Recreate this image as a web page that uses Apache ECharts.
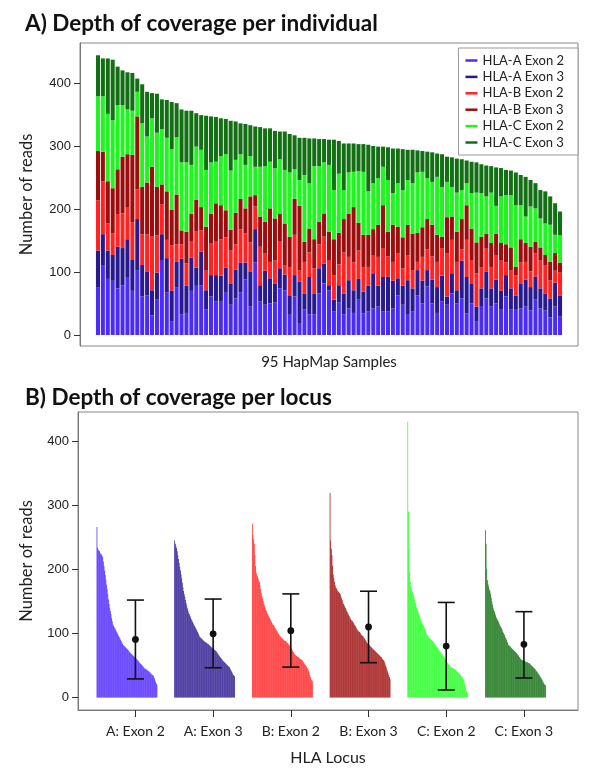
<!DOCTYPE html>
<html>
<head>
<meta charset="utf-8">
<script src="https://cdn.jsdelivr.net/npm/echarts@6/dist/echarts.min.js"></script>
<style>
html,body{margin:0;padding:0;background:#fff;}
#chart{width:600px;height:772px;}
</style>
</head>
<body>
<div id="chart"></div>
<script>
// ---------- Panel A: reads per sample, per exon (95 HapMap samples) ----------
const seriesNames = ['HLA-A Exon 2','HLA-A Exon 3','HLA-B Exon 2','HLA-B Exon 3','HLA-C Exon 2','HLA-C Exon 3'];
const hlaA2 = [75,111,89,86,74,79,92,70,103,61, 63,31,56,119,68,21,75,33,35,70, 78,79,41,61,53,54,67,48,58,68, 88,45,115,53,48,50,52,74,71,32, 61,19,41,33,33,66,82,71,37,52, 33,42,35,56,34,37,42,45,37,37, 42,63,48,32,37,63,50,77,50,35, 53,48,66,50,58,34,50,21,46,58, 45,50,40,61,41,40,42,45,39,56, 42,39,28,45,29];
const hlaA3 = [59,49,45,41,66,59,60,49,81,50, 38,40,43,41,54,49,41,88,43,53, 29,53,30,34,42,40,40,34,46,47, 27,56,53,26,54,40,30,32,25,31, 34,66,25,59,32,40,31,8,19,27, 33,45,36,33,35,41,56,33,55,56, 44,27,30,55,37,40,36,26,38,41, 41,13,32,21,60,58,32,24,28,43, 29,38,30,34,33,22,39,43,37,37, 32,27,30,38,33];
const hlaB2 = [80,84,43,34,52,55,50,60,47,49, 59,85,59,47,29,72,28,23,36,25, 57,34,31,51,53,58,48,52,40,53, 46,46,36,61,28,26,36,42,14,45, 64,18,50,39,41,38,43,40,39,33, 65,37,44,45,38,30,29,46,46,32, 30,40,28,40,29,13,38,33,37,40, 44,69,53,45,18,59,37,53,33,36, 34,39,49,20,29,33,34,28,25,37, 44,45,29,19,37];
const hlaB3 = [78,47,67,72,71,90,85,107,116,75, 82,111,77,32,77,57,79,22,50,44, 51,37,70,46,61,54,43,33,50,48, 40,73,18,48,50,85,67,44,67,48, 57,102,32,38,46,36,37,45,57,50, 53,68,88,44,52,51,41,51,68,39, 59,42,49,48,58,46,47,48,50,43, 18,57,37,48,48,55,50,49,49,24, 38,34,27,29,36,13,37,30,39,18, 21,16,29,28,16];
const hlaC2 = [87,88,107,108,102,82,71,70,39,101, 73,77,86,88,85,96,91,108,110,78, 84,91,90,82,66,78,89,94,84,71, 69,64,45,79,88,74,80,87,85,102, 47,41,106,72,116,88,81,106,78,94, 46,66,56,82,100,69,73,74,61,82, 50,69,75,71,80,96,88,65,68,92, 79,56,47,62,46,35,56,79,69,59, 80,44,74,78,83,98,54,42,64,53, 46,50,59,29,43];
const hlaC3 = [65,60,88,96,61,55,59,60,21,62, 71,40,62,47,60,75,54,84,82,86, 53,55,86,73,71,60,56,79,61,49, 65,49,64,63,60,53,59,44,61,61, 54,67,59,71,44,43,37,40,80,52, 74,46,45,43,44,74,59,50,32,52, 71,55,65,48,53,35,33,42,47,37, 52,40,47,54,49,36,50,48,46,49, 42,61,45,40,39,52,48,63,42,40, 45,51,45,50,38];
const sampleIds = hlaA2.map((_, i) => 'S' + (i + 1));

// ---------- Panel B: reads per locus, sorted (descending) ----------
const locusLabels = ['A: Exon 2','A: Exon 3','B: Exon 2','B: Exon 3','C: Exon 2','C: Exon 3'];
const sortedA2 = [266, 234,231,229,228,226,224,223,221,219, 212,205,198,191,184, 176,169,161,153, 146,140,135,130, 124,119,114, 112,110,108,106,104,102,100,98, 96,94,92,90,88,86,84,82, 81,80,79,78,77,76,75,74,72,71, 70,69,68,67,66,65,64,63,62,61,60, 59,58,57,55,54,53,52,51,50,49,47, 46,45,45,44,43,42,42,41,40, 39,38,37,36,35,34,33, 30,27,24,22,20];
const sortedA3 = [245, 240,236,233,228, 222,216,210,204, 198,192,186,179,172, 166,161,157,152, 147,143,139,135, 132,130,127,125,122,120,118,116,114, 112,110,108,106,104,102,100,98,95, 94,93,92,91,90,89,88,87,86,86,85,84,84,83,82, 81,80,79,78,77,77,76,75,74,73,72,71, 69,68,66,65,63,62,61,60,58, 57,56,55,54,53,52,51,50,49,48,47, 45,43,41,39,37,35,34,33];
const sortedB2 = [271, 253,247,240, 222,205,195, 192,189,186,183,180, 175,169,163,158,155, 150,146,143,140, 137,135,132,130,128,126,124, 122,120,118,116,114,113,111,110,108, 106,105,103,101,99,98,96,95, 94,93,92,91,90,89,88,88,87,86,85,84, 83,81,80,78,76,75,73,71,70,68, 67,66,65,64,63,63,62,61,60,60,59, 58,57,55,54,52,51,49,48,46,45, 42,39,35,32,29,27,26];
const sortedB3 = [319, 245,232,222, 205,192,186,180, 175,172,170,168,166, 165,164,163,161, 158,155,152,149,146,144,142,140,138,135, 133,131,129,127,125,123,121,120,119,118, 116,114,112,111,109,107,105,104,103, 102,101,100,98,97,96,95,93,92,90,89,87,85, 84,83,82,81,80,79,78,77,76,75,74,73,72,71,70,69, 68,67,66,65,64,63,62,60,59,58,56, 53,50,47,44,41,38,35,32,29];
const sortedC2 = [430, 290,232,195,180,172, 168,165,163,160, 156,152,148,144,140, 137,134,131,128,125,122,119, 117,115,113,111,109,106,104,101,98, 97,95,94,93,92,91,90,89,88,87,85, 84,83,81,80,78,77,76,74,72,71,69, 68,67,65,64,63,61,60,58,56, 55,53,52,51,50,48,47, 47,46,46,45,44,44,43,42, 41,40,39,38,37,36,35,33,32,30,29, 26,22,18,14,10,8,6];
const sortedC3 = [261, 240,200,183, 177,173,169,166,162, 156,150,145,140, 137,134,131,128,125,123,121,119, 117,114,112,110,108,106,103,101, 99,97,94,92,90,87,85,82, 81,80,79,78,77,76,75,74,73,72,71, 70,69,67,66,65,63,62,60, 59,59,58,58,57,57,56,56,55,55,55,54,54, 53,52,51,50,49,48,47,46,45,44,42, 41,40,38,37,35,34,32,31, 29,27,25,23,21,20,19];
// mean and mean±sd error bars
const errMean = [90.5, 99.3, 104.2, 110, 80.3, 83];
const errLow  = [29, 46.4, 47.4, 54.3, 11.8, 30.4];
const errHigh = [152, 153.6, 161.6, 165.8, 148.3, 133.9];

// ---------- styling ----------
const colorsA = ['#4b2cf6','#27198e','#ff2323','#9c0d0d','#22f322','#136f13'];
const colorsB = ['#5a36ff','#3c2b98','#ff3535','#a62121','#33ff33','#237a23'];
const FONT = 'Lato';
const NUMFONT = 'Liberation Sans';

const chart = echarts.init(document.getElementById('chart'), null, {renderer: 'canvas'});

const panelAValues = [hlaA2, hlaA3, hlaB2, hlaB3, hlaC2, hlaC3];
const panelBValues = [sortedA2, sortedA3, sortedB2, sortedB3, sortedC2, sortedC3];

const series = [];
panelAValues.forEach((arr, k) => {
  series.push({
    name: seriesNames[k], type: 'bar', stack: 'reads',
    xAxisIndex: 2, yAxisIndex: 2, barWidth: '82%',
    itemStyle: {color: colorsA[k]},
    data: arr,
    animation: false
  });
});

// Panel B: each locus is a block of 95 sorted bars placed around its tick
const groupSpan = 0.78;
const pitch = groupSpan / 95;
panelBValues.forEach((arr, g) => {
  const color = colorsB[g];
  series.push({
    name: locusLabels[g], type: 'custom', xAxisIndex: 1, yAxisIndex: 1,
    data: arr.map((v, i) => [g + 1 - 0.5 + (i + 0.5) * pitch, v]),
    encode: {x: 0, y: 1},
    renderItem: function (params, api) {
      const x = api.value(0), v = api.value(1);
      const p0 = api.coord([x - pitch / 2, v]);
      const p1 = api.coord([x + pitch / 2, 0]);
      return {type: 'rect', shape: {x: p0[0], y: p0[1], width: p1[0] - p0[0] + 0.15, height: p1[1] - p0[1]},
        style: {fill: color}};
    },
    animation: false, silent: true
  });
});

series.push({
  name: 'mean ± sd', type: 'custom', xAxisIndex: 1, yAxisIndex: 1,
  data: errMean.map((m, g) => [g + 1, m, errLow[g], errHigh[g]]),
  encode: {x: 0, y: [1, 2, 3]},
  renderItem: function (params, api) {
    const x = api.value(0);
    const pm = api.coord([x, api.value(1)]);
    const pl = api.coord([x, api.value(2)]);
    const ph = api.coord([x, api.value(3)]);
    const cap = 8.5;
    const st = {stroke: '#111', lineWidth: 1.6};
    return {type: 'group', children: [
      {type: 'line', shape: {x1: ph[0], y1: ph[1], x2: pl[0], y2: pl[1]}, style: st},
      {type: 'line', shape: {x1: ph[0] - cap, y1: ph[1], x2: ph[0] + cap, y2: ph[1]}, style: st},
      {type: 'line', shape: {x1: pl[0] - cap, y1: pl[1], x2: pl[0] + cap, y2: pl[1]}, style: st},
      {type: 'circle', shape: {cx: pm[0], cy: pm[1], r: 3.4}, style: {fill: '#111'}}
    ]};
  },
  z: 5, animation: false, silent: true
});

const yTicks = [0, 100, 200, 300, 400];
const yMinA = -17.5, yMaxA = 463.5;

const option = {
  backgroundColor: '#fff',
  animation: false,
  title: [
    {text: 'A) Depth of coverage per individual', left: 20, top: 7,
     textStyle: {fontFamily: FONT, fontWeight: 'bold', fontSize: 22.5, color: '#111'}},
    {text: 'B) Depth of coverage per locus', left: 20, top: 381,
     textStyle: {fontFamily: FONT, fontWeight: 'bold', fontSize: 22.5, color: '#111'}}
  ],
  legend: {
    data: seriesNames, orient: 'vertical', right: 22, top: 48,
    icon: 'rect', itemWidth: 12, itemHeight: 2.5, itemGap: 3.4,
    padding: [6, 14, 6, 7],
    backgroundColor: '#fff', borderColor: '#999', borderWidth: 1,
    textStyle: {fontFamily: FONT, fontSize: 13, color: '#222', lineHeight: 13},
    selectedMode: false
  },
  grid: [
    {left: 80, right: 22, top: 43, height: 303, show: true, borderColor: '#888', borderWidth: 1, backgroundColor: 'transparent'},
    {left: 78, right: 22, top: 412, height: 298, show: true, borderColor: '#888', borderWidth: 1, backgroundColor: 'transparent'},
    {left: 95.5, right: 37.5, top: 43, height: 303, show: false}
  ],
  xAxis: [
    {type: 'value', gridIndex: 0, min: 0, max: 1, show: false},
    {type: 'value', gridIndex: 1, min: 0.261, max: 6.696,
     axisLine: {show: true, onZero: false, lineStyle: {color: '#777'}},
     axisTick: {show: true, customValues: [1, 2, 3, 4, 5, 6], length: 7, lineStyle: {color: '#333'}},
     axisLabel: {show: true, customValues: [1, 2, 3, 4, 5, 6], margin: 14,
       formatter: v => locusLabels[Math.round(v) - 1] || '',
       fontFamily: FONT, fontSize: 14, color: '#222'},
     splitLine: {show: false},
     name: 'HLA Locus', nameLocation: 'middle', nameGap: 40,
     nameTextStyle: {fontFamily: FONT, fontSize: 16, color: '#222'}},
    {type: 'category', gridIndex: 2, data: sampleIds,
     axisLine: {show: false}, axisTick: {show: false}, axisLabel: {show: false}, splitLine: {show: false},
     name: '95 HapMap Samples', nameLocation: 'middle', nameGap: 9,
     nameTextStyle: {fontFamily: FONT, fontSize: 15, color: '#222'}}
  ],
  yAxis: [
    {type: 'value', gridIndex: 0, min: yMinA, max: yMaxA,
     axisLine: {show: true, lineStyle: {color: '#777'}},
     axisTick: {show: true, customValues: yTicks, length: 6, lineStyle: {color: '#333'}},
     axisLabel: {customValues: yTicks, margin: 9, fontFamily: NUMFONT, fontSize: 13, color: '#222'},
     splitLine: {show: false},
     name: 'Number of reads', nameLocation: 'middle', nameGap: 45,
     nameTextStyle: {fontFamily: FONT, fontSize: 16.5, color: '#222'}},
    {type: 'value', gridIndex: 1, min: -19.5, max: 445.4,
     axisLine: {show: true, lineStyle: {color: '#777'}},
     axisTick: {show: true, customValues: yTicks, length: 6, lineStyle: {color: '#333'}},
     axisLabel: {customValues: yTicks, margin: 9, fontFamily: NUMFONT, fontSize: 13, color: '#222'},
     splitLine: {show: false},
     name: 'Number of reads', nameLocation: 'middle', nameGap: 43,
     nameTextStyle: {fontFamily: FONT, fontSize: 16.5, color: '#222'}},
    {type: 'value', gridIndex: 2, min: yMinA, max: yMaxA, show: false, splitLine: {show: false}}
  ],
  series: series
};
chart.setOption(option);
</script>
</body>
</html>
